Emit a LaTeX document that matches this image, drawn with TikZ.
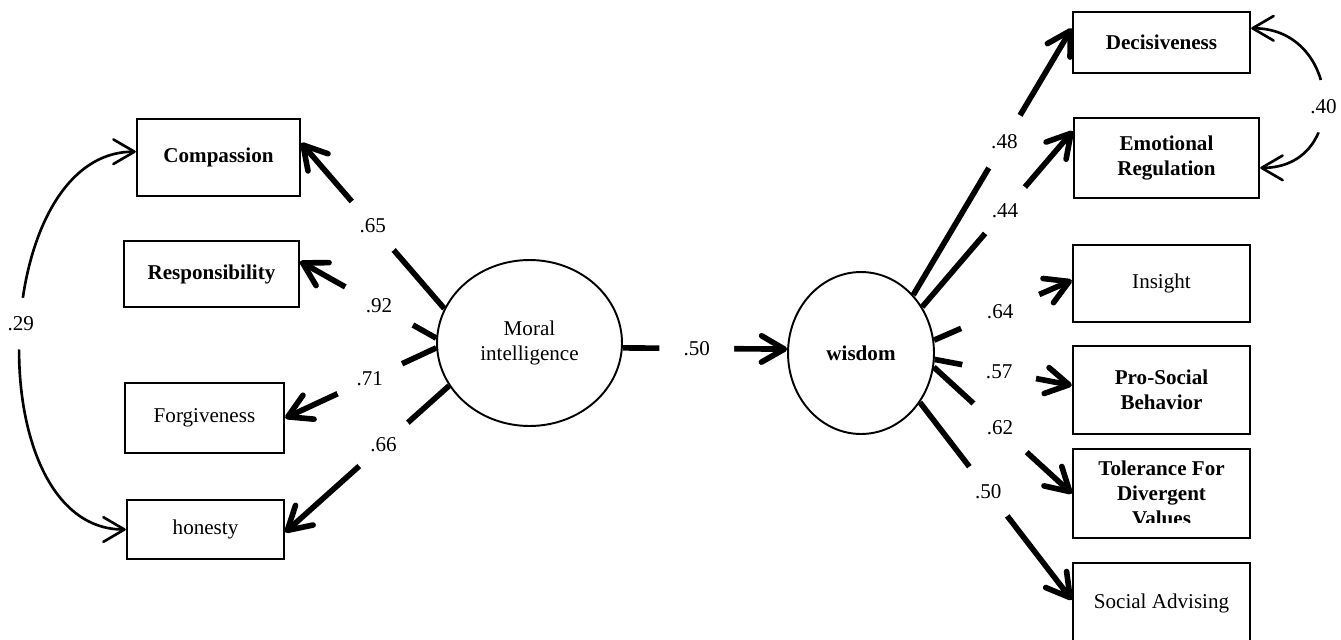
\documentclass[tikz,border=0pt]{standalone}
\usepackage{fontspec}
\setmainfont{Liberation Serif}
\usetikzlibrary{shapes.geometric,arrows.meta}

\def\gapsize{1.3cm}

\begin{document}
\begin{tikzpicture}[x=0.02cm, y=-0.02cm,
  every node/.style={font=\fontsize{12}{14.2}\selectfont},
  bf/.style={font=\fontsize{12}{14.2}\selectfont\bfseries},
  var/.style={draw, rectangle, line width=1.4pt, inner sep=0pt, align=center},
  latent/.style={draw, ellipse, line width=1.1pt, inner sep=0pt, align=center},
  load/.style={line width=3.2pt, -{Straight Barb[length=13pt,width=15pt,round]}},
  cov/.style={line width=1.5pt, {Straight Barb[length=12pt,width=14pt,round]}-{Straight Barb[length=12pt,width=14pt,round]}},
  coef/.style={circle, fill=white, inner sep=0pt, minimum size=\gapsize}]
  \useasboundingbox (0,0) rectangle (1341,639);

  % latent variables
  \node [latent, minimum width=3.7cm, minimum height=3.32cm] (moral) at (529.5,343) {Moral\\intelligence};
  \node [latent, bf, minimum width=2.92cm, minimum height=3.24cm] (wisdom) at (861,353) {wisdom};

  % moral intelligence
  \node [var, bf, minimum width=3.26cm, minimum height=1.54cm] (compassion) at (218.5,157.5) {Compassion};
  \node [var, bf, minimum width=3.5cm, minimum height=1.32cm] (responsibility) at (211.5,274) {Responsibility};
  \node [var, minimum width=3.18cm, minimum height=1.4cm] (forgiveness) at (204.5,418) {Forgiveness};
  \node [var, minimum width=3.14cm, minimum height=1.18cm] (honesty) at (205.5,529.5) {honesty};

  % wisdom
  \node [var, bf, minimum width=3.54cm, minimum height=1.22cm] (decisiveness) at (1161.5,42.5) {Decisiveness};
  \node [var, bf, minimum width=3.7cm, minimum height=1.6cm] (emotional) at (1166.5,158) {Emotional\\Regulation};
  \node [var, minimum width=3.54cm, minimum height=1.54cm] (insight) at (1161.5,283.5) {Insight};
  \node [var, bf, minimum width=3.54cm, minimum height=1.76cm] (prosocial) at (1161.5,390) {Pro-Social\\Behavior};
  \node [var, bf, minimum width=3.54cm, minimum height=1.78cm] (tolerance) at (1161.5,493.5) {Tolerance For\\Divergent\\Values};
  \fill [white] ([shift={(1.2pt,1.2pt)}]tolerance.south west) rectangle ([shift={(-1.2pt,0.33cm)}]tolerance.south east);
  \node [var, minimum width=3.54cm, minimum height=1.6cm] (advising) at (1161.5,603) {Social Advising};

  \draw [load] (moral.-3) -- node [coef, minimum size=1.5cm, pos=0.45] {.50} (wisdom.177);

  \draw [load] (moral.158) -- node [coef, minimum size=1.28cm] {.65} (compassion.10);
  \draw [load] (moral.177) -- node [coef, minimum size=1.55cm, pos=0.42] {.92} (responsibility.8);
  \draw [load] (moral.183) -- node [coef, minimum size=1.42cm, pos=0.44] {.71} (forgiveness.east);
  \draw [load] (moral.208) -- node [coef, pos=0.4] {.66} (honesty.-2);

  \draw [load] (wisdom.48) -- node [coef, minimum size=1.22cm, pos=0.575] {.48} (decisiveness.171);
  \draw [load] (wisdom.37) -- node [coef, minimum size=1.22cm, pos=0.55] {.44} (emotional.164);
  \draw [load] (wisdom.10) -- node [coef, minimum size=1.7cm, pos=0.48] {.64} (insight.178);
  \draw [load] (wisdom.-5) -- node [coef, minimum size=1.5cm, pos=0.47] {.57} (prosocial.177);
  \draw [load] (wisdom.-11) -- node [coef, minimum size=1.44cm, pos=0.48] {.62} (tolerance.west);
  \draw [load] (wisdom.-40) -- node [coef, minimum size=1.24cm, pos=0.45] {.50} (advising.178);

  % correlations
  \draw [cov] (compassion.176) to [out=180, in=180, looseness=1] node [coef, minimum size=1.04cm, pos=0.47] {.29} (honesty.west);
  \draw [cov] (decisiveness.9) to [out=0, in=0, looseness=1.65] node [coef, minimum size=1.06cm, pos=0.54] {.40} (emotional.-6);

\end{tikzpicture}
\end{document}
